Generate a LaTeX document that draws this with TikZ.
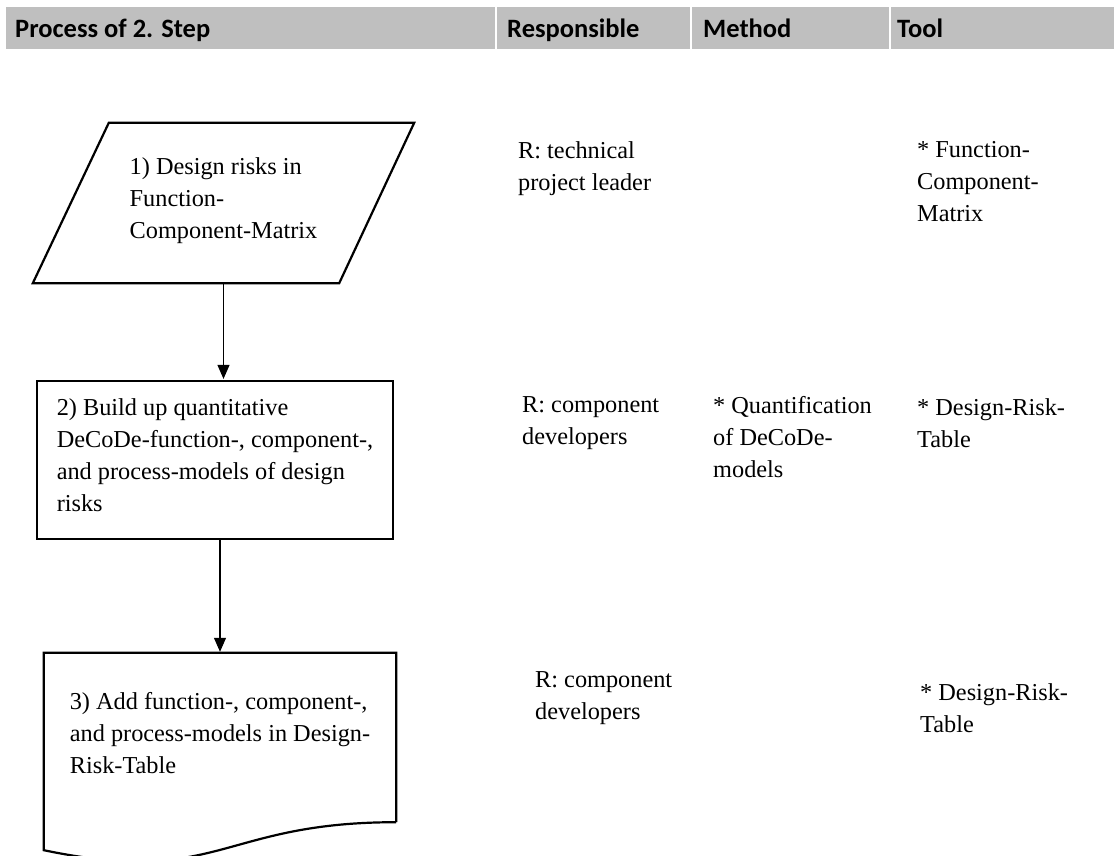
\documentclass[tikz,border=0pt]{standalone}
\usepackage{fontspec}
\setmainfont{Liberation Serif}
\newfontfamily\headfont{Carlito}
\usetikzlibrary{arrows.meta,positioning,calc}
\tikzset{flow/.style={rectangle, align=left, inner sep=0pt, font=\fontsize{24.3}{32}\selectfont, execute at begin node={\rule{0pt}{32pt}}, execute at end node=\strut}}
\tikzstyle{border}=[line width=2.2pt]
\tikzstyle{note}=[anchor=north west, inner sep=0pt, align=left, font=\fontsize{24.3}{32}\selectfont, execute at begin node=\strut]
\tikzstyle{colhead}=[anchor=base west, inner sep=0pt, font=\headfont\bfseries\fontsize{26.5}{30}\selectfont]

\begin{document}
\begin{tikzpicture}[x=1pt, y=-1pt, >={Triangle[length=14pt,width=12pt]}]
\useasboundingbox (0,0) rectangle (1114,856);
% head row
\fill[gray!50] (6,7) rectangle (1114,49);
\foreach \sx in {496,691,890} \draw[white, line width=2pt] (\sx,7) -- (\sx,49);
\node[colhead] (hproc) at (15,38) {Process of 2. Step};
\node[colhead] (hresp) at (507,38) {Responsible};
\node[colhead] (hmeth) at (703,38) {Method};
\node[colhead] (htool) at (897,38) {Tool};

% steps
\node[flow, minimum width=381, minimum height=160] (fcm) at (223.5,203) {1) Design risks in\\Function-\\Component-Matrix};
\draw[border] ($(fcm.north west)+(76,0)$) -- (fcm.north east) -- ($(fcm.south east)-(75,0)$) -- (fcm.south west) -- cycle;

\node[flow, draw, border, minimum width=356, minimum height=158] (build) at (215,460) {2) Build up quantitative\\DeCoDe-function-, component-,\\and process-models of design\\risks};

\node[flow, minimum width=352, minimum height=169] (doc) at (220,737.5) {3) Add function-, component-,\\and process-models in Design-\\Risk-Table};
\draw[border] (doc.south east) -- (doc.north east) -- (doc.north west) -- ($(doc.south west)+(0,28)$)
  .. controls ($(doc.south)+(0,64.6)$) and (doc.south) .. (doc.south east);

\draw[->, line width=1.1pt, shorten >=1pt] (fcm.south) -- (fcm.south |- build.north);
\draw[->, line width=1.1pt, shorten >=1pt] (doc.north |- build.south) -- (doc.north);

% responsible, method, tool
\node[note] (resp1) at (518,141.6) {R: technical\\project leader};
\node[note] (tool1) at (917,141.6) {* Function-\\Component-\\Matrix};
\node[note] (resp2) at (522,396.6) {R: component\\developers};
\node[note] (meth2) at (713,396.6) {* Quantification\\of DeCoDe-\\models};
\node[note] (tool2) at (917,398.6) {* Design-Risk-\\Table};
\node[note] (resp3) at (535,671.6) {R: component\\developers};
\node[note] (tool3) at (920,683.6) {* Design-Risk-\\Table};
\end{tikzpicture}
\end{document}
